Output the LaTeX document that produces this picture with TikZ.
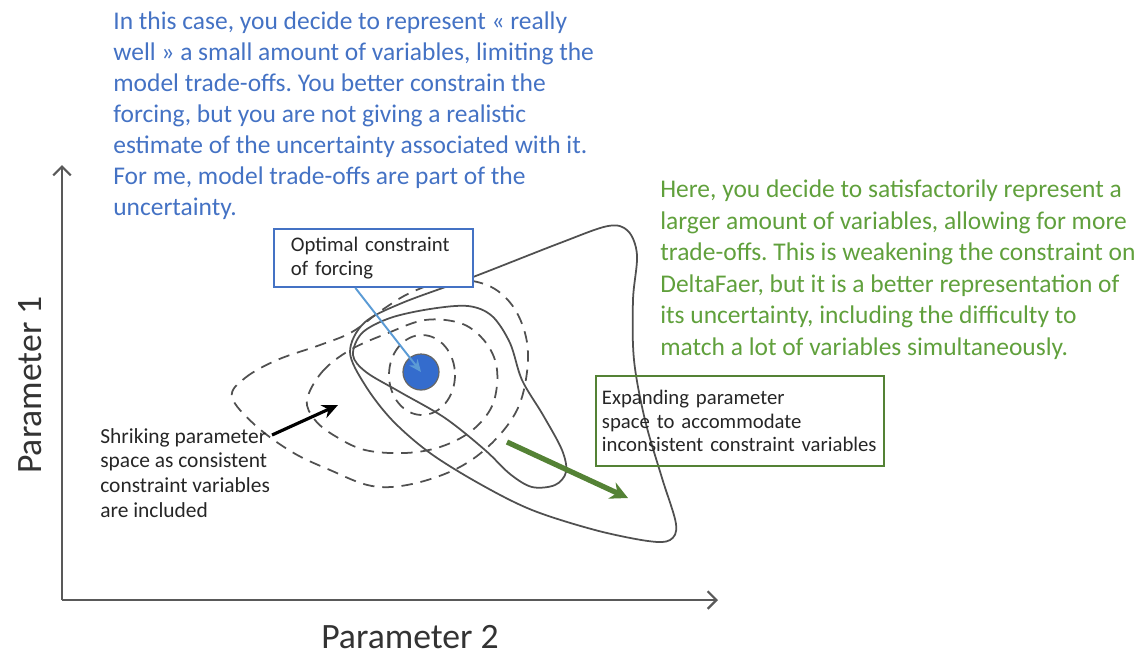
\documentclass[tikz,border=0pt]{standalone}
\usepackage{fontspec}
\setmainfont{Carlito}
\usetikzlibrary{arrows.meta,calc}
\frenchspacing

\definecolor{txtblue}{RGB}{68,114,196}
\definecolor{txtgreen}{RGB}{96,160,60}
\definecolor{boxgreen}{RGB}{84,130,53}
\definecolor{lineblue}{RGB}{91,155,213}
\definecolor{dotblue}{RGB}{52,108,205}
\definecolor{curvegray}{RGB}{80,80,80}

\begin{document}
\begin{tikzpicture}[x=0.02cm,y=-0.02cm,
  contour/.style={curvegray, line width=1pt},
  dashcontour/.style={contour, dash pattern=on 6.5pt off 4.5pt},
  axisline/.style={black!65, line width=1.1pt, -{Straight Barb[length=5pt,width=10pt,line width=1.3pt]}},
  note/.style={align=left, inner sep=0pt, anchor=base west},
  smallnote/.style={note, font=\fontsize{12.2}{14}\selectfont, text=black!85},
  labelbox/.style={draw, line width=1.1pt, anchor=north west, align=left, font=\fontsize{11.8}{13.5}\selectfont, text=black!85}]
\useasboundingbox (0,0) rectangle (1145,654);

% comments in blue and green (placed by the baseline of their last line)
\node[note, text=txtblue, font=\fontsize{14.5}{17.6}\selectfont] (bluetext) at (113,215)
  {In this case, you decide to represent « really\\
   well » a small amount of variables, limiting the\\
   model trade-offs. You better constrain the\\
   forcing, but you are not giving a realistic\\
   estimate of the uncertainty associated with it.\\
   For me, model trade-offs are part of the\\
   uncertainty.};
\node[note, text=txtgreen, font=\fontsize{14.5}{17.9}\selectfont] (greentext) at (660,355)
  {Here, you decide to satisfactorily represent a\\
   larger amount of variables, allowing for more\\
   trade-offs. This is weakening the constraint on\\
   DeltaFaer, but it is a better representation of\\
   its uncertainty, including the difficulty to\\
   match a lot of variables simultaneously.};

% axes
\coordinate (origin) at (62,600);
\coordinate (ytop) at (62,165);
\coordinate (xend) at (718,600);
\draw[axisline] (origin) -- (ytop);
\draw[axisline] (origin) -- (xend);
\node[rotate=90, inner sep=0pt, font=\fontsize{20.3}{22}\selectfont, text=black!80] (ylab) at (30,385) {Parameter 1};
\node[inner sep=0pt, font=\fontsize{20.3}{22}\selectfont, text=black!80] (xlab) at (410,637) {Parameter 2};

% dashed rings
\draw[dashcontour] plot[smooth cycle, tension=0.6] coordinates {
  (232,397) (245,378) (277,360) (320,345) (352,332) (382,310) (412,292) (450,280)
  (487,285) (512,305) (526,337) (527,372) (517,410) (492,443) (458,468) (412,484)
  (372,486) (330,470) (292,452) (255,425)};
\draw[dashcontour] plot[smooth cycle, tension=0.6] coordinates {
  (307,400) (322,372) (350,350) (388,333) (425,320) (460,323) (482,338) (495,360)
  (497,385) (490,410) (470,432) (440,447) (405,453) (365,450) (335,436) (315,420)};
\draw[dashcontour] (422,375) ellipse [x radius=33, y radius=40];

% solid contours
\draw[contour] plot[smooth cycle, tension=0.55] coordinates {
  (350,352) (365,385) (392,420) (430,453) (480,484) (532,510) (595,530) (648,541)
  (670,540) (676,524) (662,478) (645,420) (634,360) (633,300) (637,255) (628,231)
  (608,226) (560,243) (473,277) (402,303) (364,323)};
\draw[contour] plot[smooth cycle, tension=0.55] coordinates {
  (353,355) (362,333) (390,318) (430,309) (468,306) (492,316) (510,343) (522,380)
  (543,415) (562,450) (566,472) (555,485) (532,487) (510,474) (485,450) (445,418)
  (400,392) (366,372)};

% optimum
\node[circle, fill=dotblue, draw=black!60, line width=0.7pt, minimum size=0.72cm, inner sep=0pt] (dot) at (421,372) {};
\node[labelbox, draw=txtblue, minimum width=3.98cm, minimum height=1.16cm, text width=3.3cm, inner xsep=0.34cm, fill=white] (optbox) at (273,228)
  {Optimal constraint\\of forcing};
\draw[lineblue, line width=1.1pt, -{Stealth[length=7pt,width=6pt]}] ($(optbox.south west)!0.41!(optbox.south east)$) -- (dot.center);

% left one
\node[smallnote] (shrink) at (100,517)
  {Shriking parameter\\space as consistent\\constraint variables\\are included};
\coordinate (shrinkstart) at (272,435);
\coordinate (shrinktip) at (338,405);
\draw[black, line width=1.8pt, -{Stealth[length=9pt,width=8pt]}] (shrinkstart) -- (shrinktip);

% right one
\node[labelbox, draw=boxgreen, minimum width=5.76cm, minimum height=1.8cm, text width=5.52cm, inner xsep=0.12cm] (expbox) at (595,375)
  {Expanding parameter\\space to accommodate\\inconsistent constraint variables};
\coordinate (growstart) at (507,442);
\coordinate (growtip) at (628,498);
\draw[boxgreen, line width=3pt, -{Stealth[length=10pt,width=10pt]}] (growstart) -- (growtip);
\end{tikzpicture}
\end{document}
